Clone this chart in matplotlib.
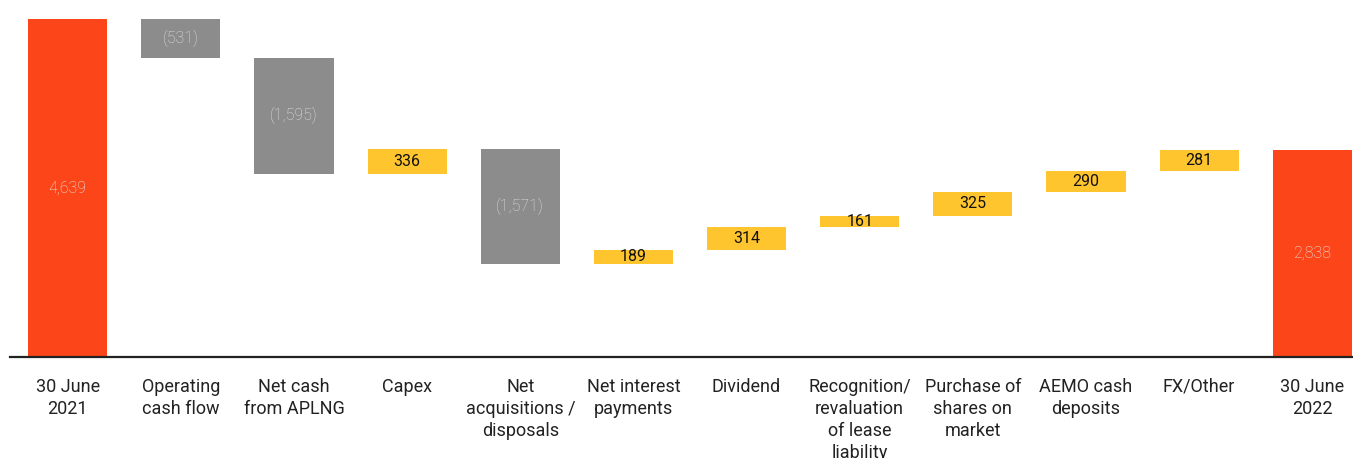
import numpy as np
import matplotlib.pyplot as plt

plt.rcParams['font.family'] = ['Roboto', 'DejaVu Sans']

# Data
categories = ['30 June\n2021', 'Operating\ncash flow', 'Net cash\nfrom APLNG', 'Capex',
              'Net\nacquisitions /\ndisposals', 'Net interest\npayments', 'Dividend',
              'Recognition/\nrevaluation\nof lease\nliability', 'Purchase of\nshares on\nmarket',
              'AEMO cash\ndeposits', 'FX/Other', '30 June\n2022']
start_value = 4639
changes = [-531, -1595, 336, -1571, 189, 314, 161, 325, 290, 281]
end_value = 2838

orange = '#FC4619'
grey = '#8C8C8C'
yellow = '#FFC52E'

def fmt(v):
    s = f"{abs(v):,}"
    return f"({s})" if v < 0 else s

# waterfall geometry
running = np.cumsum([start_value] + changes)
bottoms, heights, colors, labels, tcolors = [], [], [], [], []
bottoms.append(0); heights.append(start_value); colors.append(orange)
labels.append(fmt(start_value)); tcolors.append('#E6E6E6')
for i, c in enumerate(changes):
    prev = running[i]
    bottoms.append(min(prev, prev + c))
    heights.append(abs(c))
    colors.append(grey if c < 0 else yellow)
    labels.append(fmt(c))
    tcolors.append('#E0E0E0' if c < 0 else '#111111')
bottoms.append(0); heights.append(end_value); colors.append(orange)
labels.append(fmt(end_value)); tcolors.append('#E6E6E6')

x = np.arange(len(categories))

fig = plt.figure(figsize=(13.53, 4.58), dpi=100)
ax = fig.add_axes([10 / 1353, (458 - 357) / 458, 1343 / 1353, (357 - 19) / 458])
ax.bar(x, heights, bottom=bottoms, width=0.70, color=colors, zorder=2)

for xi, b, h, lab, tc in zip(x, bottoms, heights, labels, tcolors):
    light = tc != '#111111'
    ax.text(xi, b + h / 2, lab, ha='center', va='center', fontsize=11.5,
            color=tc, fontweight='light' if light else 'normal', zorder=3)

ax.set_xlim(-0.51, 11.36)
ax.set_ylim(0, start_value)
ax.set_xticks(x)
ax.set_xticklabels(categories, fontsize=13, color='#222222', linespacing=1.29)
ax.tick_params(axis='x', length=0, pad=15)
ax.set_yticks([])
for s in ['top', 'right', 'left']:
    ax.spines[s].set_visible(False)
ax.spines['bottom'].set_linewidth(1.6)
ax.spines['bottom'].set_color('#222222')

fig.savefig('out.png', dpi=100)
